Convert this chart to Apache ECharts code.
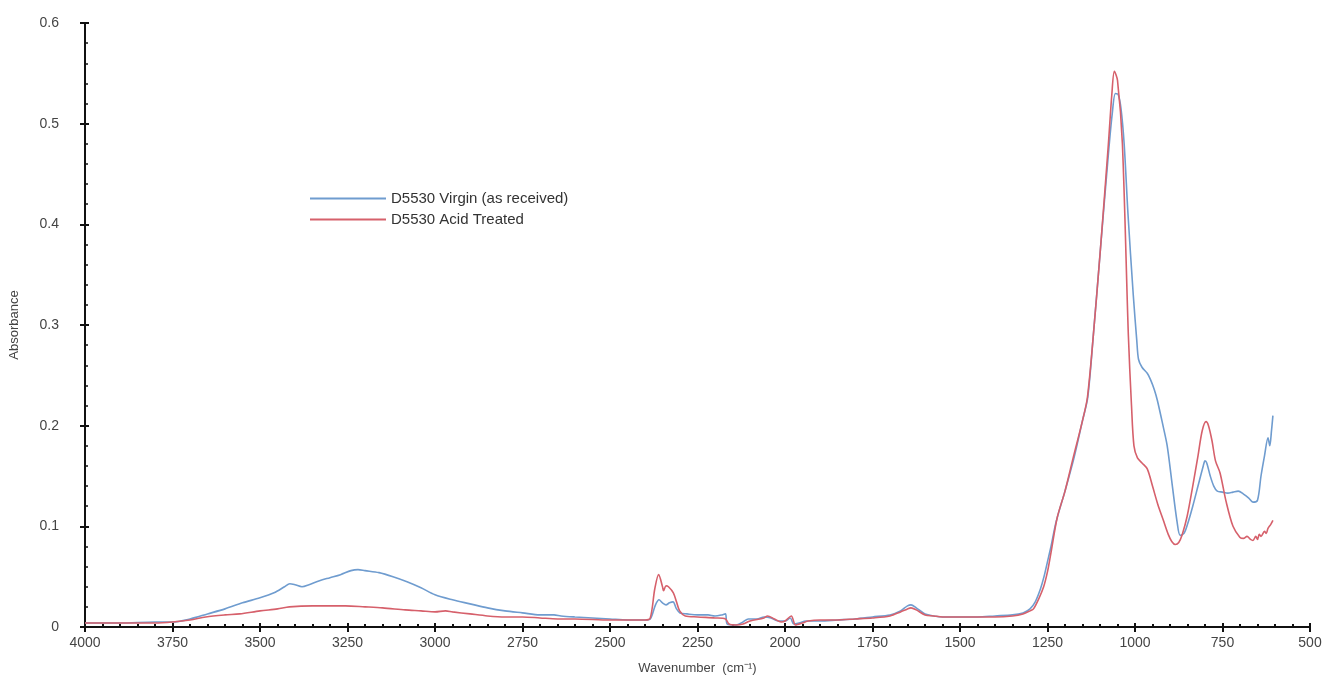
<!DOCTYPE html>
<html>
<head>
<meta charset="utf-8">
<script src="https://cdn.jsdelivr.net/npm/echarts@6/dist/echarts.min.js"></script>
<style>
html,body{margin:0;padding:0;background:#fff;}
#chart{width:1326px;height:680px;}
</style>
</head>
<body>
<div id="chart"></div>
<script>
// ---- Data ----
const seriesNames = ['D5530 Virgin (as received)', 'D5530 Acid Treated'];
const xTicks = [4000, 3750, 3500, 3250, 3000, 2750, 2500, 2250, 2000, 1750, 1500, 1250, 1000, 750, 500];
const yTicks = [0, 0.1, 0.2, 0.3, 0.4, 0.5, 0.6];

const virginWn = [4000,3900,3800,3750,3700,3650,3600,3550,3500,3460,3430,3415,3400,3380,3360,3330,3300,3270,3240,3220,3200,3160,3120,3080,3040,3000,2950,2900,2850,2800,2750,2700,2660,2640,2600,2550,2500,2450,2400,2385,2370,2360,2350,2340,2330,2320,2310,2300,2280,2250,2220,2200,2180,2170,2165,2140,2120,2105,2080,2060,2040,2020,2000,1985,1975,1960,1940,1900,1850,1800,1750,1700,1670,1650,1640,1625,1600,1575,1550,1500,1450,1400,1350,1320,1300,1285,1270,1260,1250,1240,1225,1200,1175,1150,1135,1119,1100,1076,1065,1056,1048,1040,1031,1020,1005,995,990,980,965,956,945,936,920,908,895,880,871,860,850,835,820,805,800,795,785,775,765,750,735,720,705,690,675,663,650,640,630,620,615,610,606];
const virginAbs = [0.004,0.004,0.005,0.005,0.008,0.013,0.018,0.024,0.029,0.034,0.040,0.043,0.042,0.040,0.042,0.046,0.049,0.052,0.056,0.057,0.056,0.054,0.050,0.045,0.039,0.032,0.027,0.023,0.019,0.016,0.014,0.012,0.012,0.011,0.010,0.009,0.008,0.007,0.007,0.008,0.022,0.027,0.024,0.022,0.024,0.025,0.018,0.014,0.013,0.012,0.012,0.011,0.012,0.013,0.003,0.002,0.005,0.008,0.008,0.010,0.009,0.006,0.006,0.009,0.003,0.004,0.006,0.006,0.007,0.008,0.010,0.012,0.016,0.021,0.022,0.019,0.013,0.011,0.010,0.010,0.010,0.011,0.012,0.014,0.018,0.025,0.038,0.050,0.065,0.080,0.105,0.135,0.167,0.205,0.228,0.290,0.370,0.470,0.510,0.530,0.529,0.515,0.480,0.410,0.330,0.285,0.266,0.258,0.252,0.246,0.236,0.225,0.200,0.180,0.145,0.105,0.091,0.093,0.102,0.120,0.140,0.160,0.165,0.163,0.150,0.140,0.135,0.134,0.133,0.134,0.135,0.132,0.128,0.124,0.126,0.150,0.170,0.188,0.180,0.195,0.210];

const acidWn = [4000,3900,3800,3750,3700,3655,3600,3558,3500,3450,3416,3350,3300,3256,3200,3150,3085,3040,3000,2970,2950,2900,2850,2800,2750,2700,2650,2600,2500,2400,2385,2372,2361,2350,2347,2340,2333,2319,2310,2301,2285,2250,2200,2170,2160,2140,2120,2100,2060,2050,2030,2011,2000,1982,1970,1950,1934,1900,1850,1800,1750,1700,1670,1650,1640,1625,1600,1575,1550,1500,1450,1400,1350,1320,1300,1290,1275,1261,1250,1241,1222,1200,1176,1150,1136,1119,1100,1076,1066,1059,1050,1036,1019,1010,1003,993,980,965,950,935,919,905,895,885,875,865,851,835,820,808,797,790,780,770,757,740,720,700,690,680,670,663,655,650,645,640,630,625,620,612,606];
const acidAbs = [0.004,0.004,0.004,0.005,0.007,0.010,0.012,0.013,0.016,0.018,0.020,0.021,0.021,0.021,0.020,0.019,0.017,0.016,0.015,0.016,0.015,0.013,0.011,0.010,0.010,0.009,0.008,0.008,0.007,0.007,0.009,0.038,0.052,0.040,0.036,0.041,0.040,0.034,0.025,0.016,0.011,0.010,0.009,0.008,0.003,0.002,0.003,0.006,0.009,0.011,0.008,0.005,0.006,0.011,0.002,0.004,0.006,0.007,0.007,0.008,0.009,0.011,0.015,0.018,0.019,0.017,0.012,0.011,0.010,0.010,0.010,0.010,0.011,0.013,0.016,0.018,0.028,0.040,0.055,0.072,0.109,0.135,0.169,0.205,0.228,0.290,0.370,0.480,0.530,0.552,0.543,0.480,0.290,0.220,0.180,0.168,0.163,0.157,0.140,0.122,0.106,0.092,0.085,0.082,0.084,0.092,0.110,0.140,0.170,0.195,0.204,0.200,0.185,0.165,0.153,0.125,0.100,0.089,0.088,0.090,0.087,0.086,0.090,0.087,0.092,0.090,0.095,0.093,0.098,0.102,0.106];

const colors = ['#6f9ccf', '#d6606b'];

const zip = (a, b) => a.map((v, i) => [v, b[i]]);

const chart = echarts.init(document.getElementById('chart'), null, {renderer: 'canvas'});
const fontFam = '"Liberation Sans", Arial, sans-serif';
const grid = {left: 81, right: 16, top: 23, bottom: 48};

const xBase = {type: 'value', min: 500, max: 4000, interval: 250, inverse: true, splitLine: {show: false}};
const yBase = {type: 'value', min: 0, max: 0.6, interval: 0.1, splitLine: {show: false}};

const option = {
  animation: false,
  backgroundColor: '#fff',
  grid: grid,
  legend: {
    data: seriesNames,
    orient: 'vertical',
    left: 305,
    top: 186,
    itemWidth: 76,
    itemHeight: 2,
    itemGap: 6,
    icon: 'rect',
    textStyle: {fontFamily: fontFam, fontSize: 15, color: '#333'}
  },
  xAxis: [
    Object.assign({}, xBase, {
      position: 'bottom',
      name: 'Wavenumber  (cm\u207B\u00B9)',
      nameLocation: 'middle',
      nameGap: 35,
      nameTextStyle: {fontFamily: fontFam, fontSize: 13, color: '#444'},
      axisLine: {show: true, onZero: false, lineStyle: {color: '#111', width: 2}},
      axisTick: {show: true, inside: false, length: 5, lineStyle: {color: '#111', width: 2}},
      axisLabel: {fontFamily: fontFam, fontSize: 14, color: '#444', margin: 9,
        formatter: v => xTicks.includes(v) ? String(v) : ''}
    }),
    Object.assign({}, xBase, {
      position: 'bottom',
      axisLine: {show: false, onZero: false},
      axisTick: {show: true, inside: true, length: 4, lineStyle: {color: '#111', width: 2}},
      minorTick: {show: true, splitNumber: 5, length: 3, lineStyle: {color: '#111', width: 2}},
      axisLabel: {show: false}
    })
  ],
  yAxis: [
    Object.assign({}, yBase, {
      position: 'left',
      name: 'Absorbance',
      nameLocation: 'middle',
      nameGap: 64,
      nameRotate: 90,
      nameTextStyle: {fontFamily: '"Liberation Sans Narrow", "Liberation Sans", Arial, sans-serif', fontSize: 13, color: '#444'},
      axisLine: {show: true, onZero: false, lineStyle: {color: '#111', width: 2}},
      axisTick: {show: true, inside: false, length: 5, lineStyle: {color: '#111', width: 2}},
      axisLabel: {fontFamily: fontFam, fontSize: 14, color: '#444', margin: 26,
        formatter: v => { const r = Math.round(v * 10) / 10; return yTicks.includes(r) ? String(r) : ''; }}
    }),
    Object.assign({}, yBase, {
      position: 'left',
      axisLine: {show: false, onZero: false},
      axisTick: {show: true, inside: true, length: 4, lineStyle: {color: '#111', width: 2}},
      minorTick: {show: true, splitNumber: 5, length: 3, lineStyle: {color: '#111', width: 1.5}},
      axisLabel: {show: false}
    })
  ],
  series: [
    {
      name: seriesNames[0], type: 'line', xAxisIndex: 0, yAxisIndex: 0,
      data: zip(virginWn, virginAbs), showSymbol: false, smooth: 0.3,
      lineStyle: {color: colors[0], width: 1.6}, itemStyle: {color: colors[0]}, z: 3
    },
    {
      name: seriesNames[1], type: 'line', xAxisIndex: 0, yAxisIndex: 0,
      data: zip(acidWn, acidAbs), showSymbol: false, smooth: 0.3,
      lineStyle: {color: colors[1], width: 1.6}, itemStyle: {color: colors[1]}, z: 4
    }
  ]
};
chart.setOption(option);
</script>
</body>
</html>
